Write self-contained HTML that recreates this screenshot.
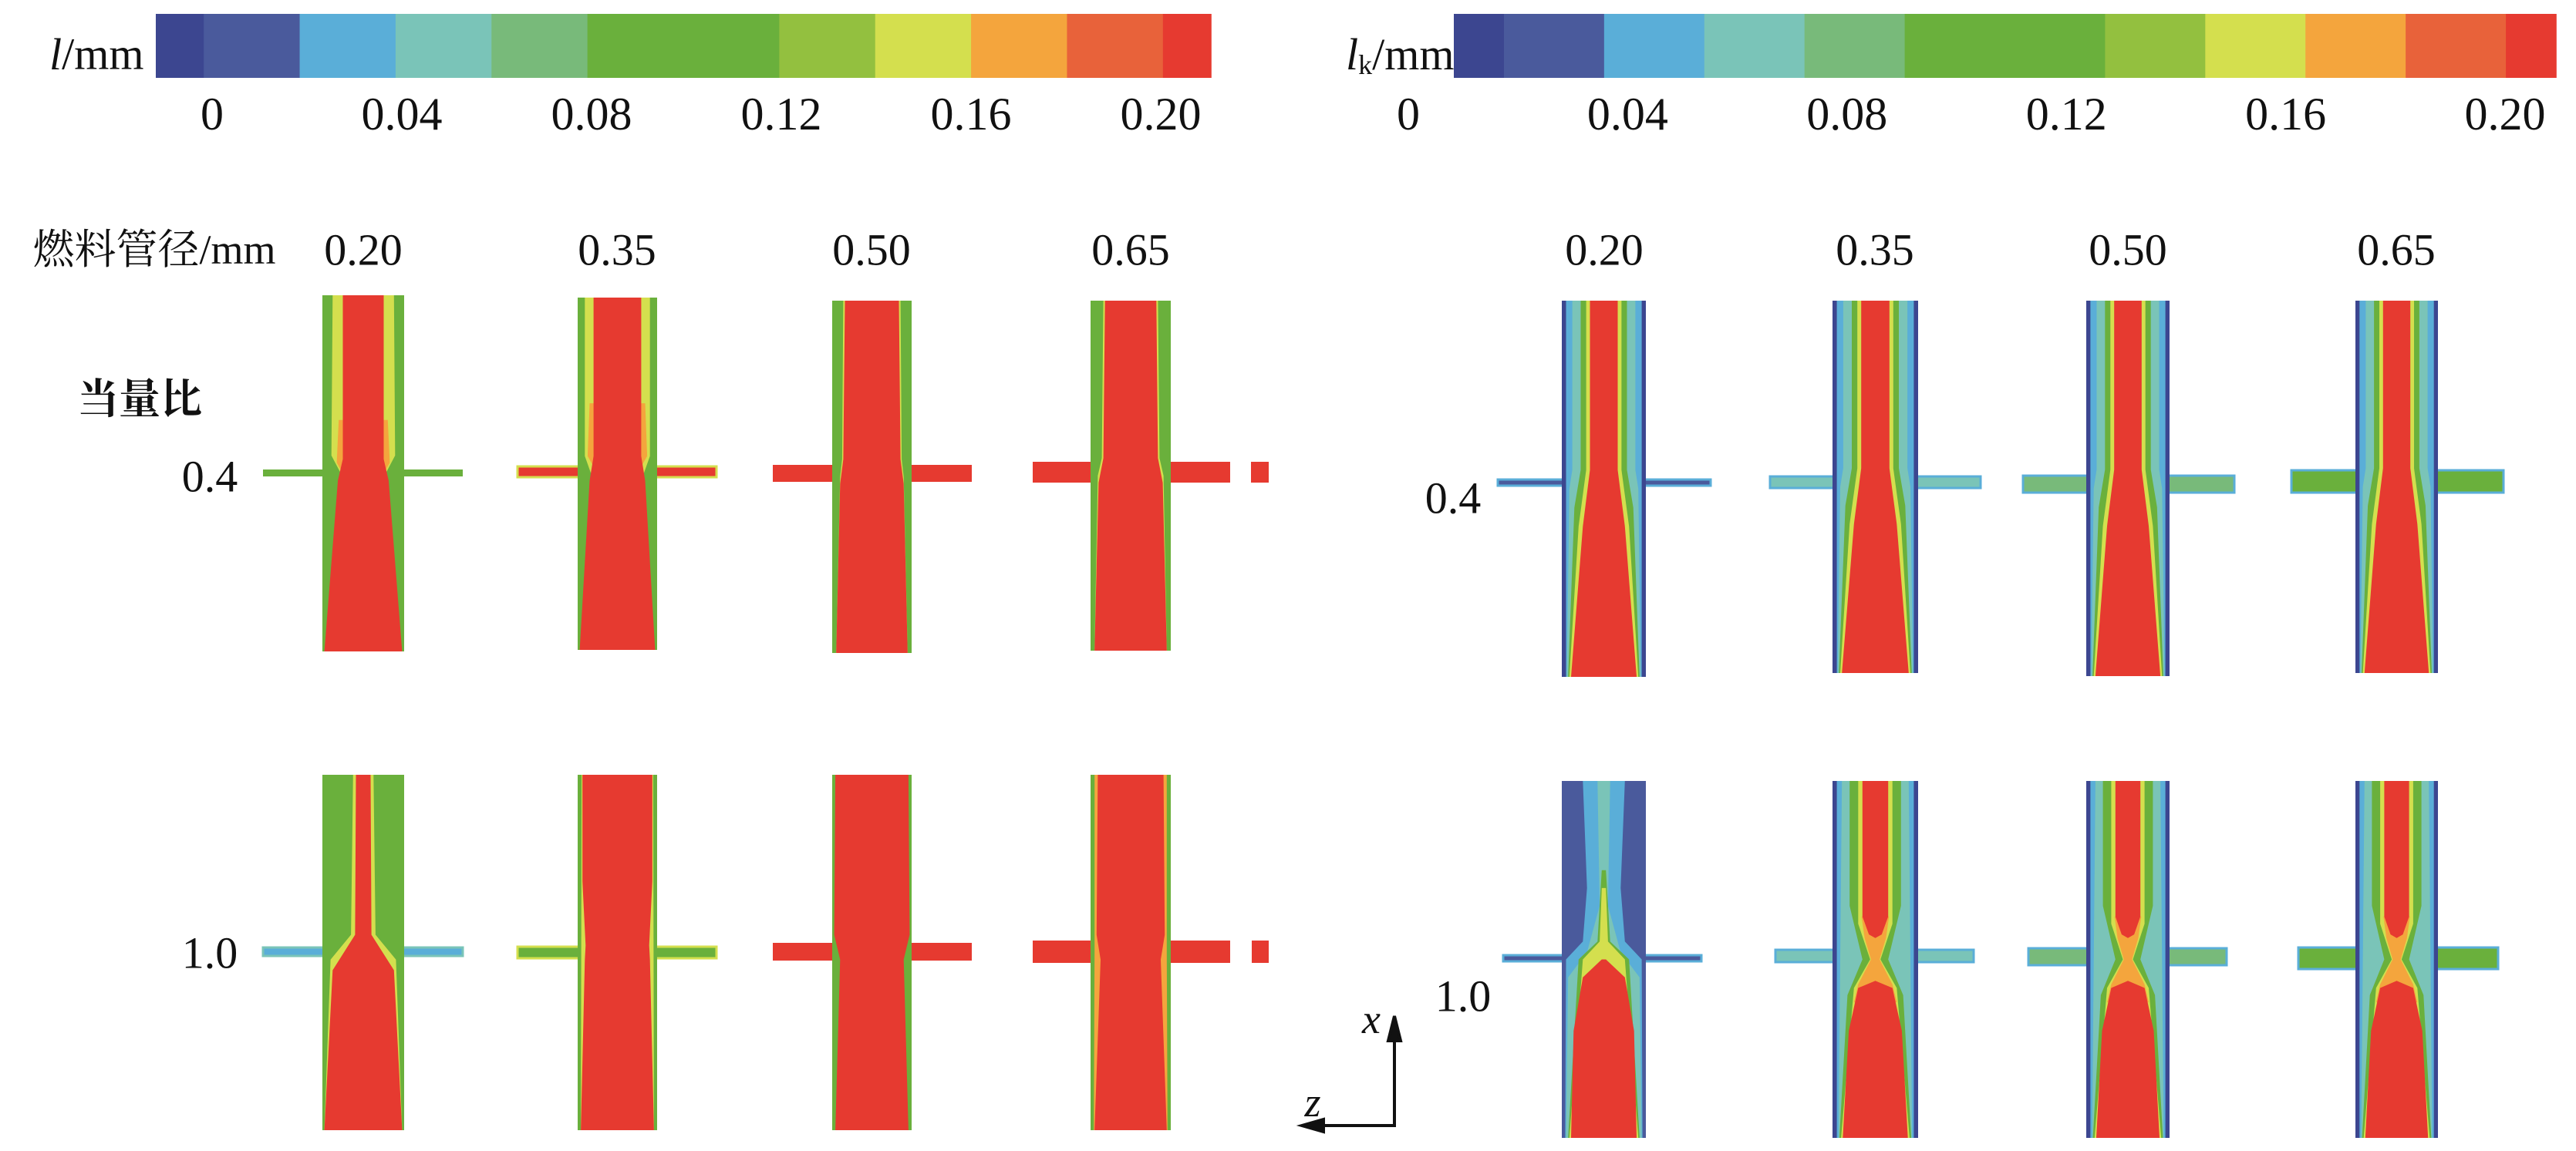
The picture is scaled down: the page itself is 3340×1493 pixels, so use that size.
<!DOCTYPE html>
<html><head><meta charset="utf-8">
<style>
html,body{margin:0;padding:0;background:#fff;}
body{width:3340px;height:1493px;overflow:hidden;}
svg{display:block;}
text{font-family:"Liberation Serif","Noto Serif CJK SC",serif;fill:#111;}
</style></head>
<body>
<svg id="fig" width="3340" height="1493" viewBox="0 0 3340 1493" xmlns="http://www.w3.org/2000/svg"></svg>
<script>
// ---- data ----
const colorStops = ["#3c4690","#4a5a9c","#5aaed8","#7ac4b8","#78ba7a","#6ab03c","#6ab03c","#93c03f","#d4df4e","#f4a53d","#e8623a","#e63a30"];
const colorWidths = [0.5,1,1,1,1,1,1,1,1,1,1,0.5];
const tickLabels = ["0","0.04","0.08","0.12","0.16","0.20"];
const tickValues = [0,0.04,0.08,0.12,0.16,0.20];
const diameters = ["0.20","0.35","0.50","0.65"];
const ratios = ["0.4","1.0"];

const svg = document.getElementById('fig');
const NS = "http://www.w3.org/2000/svg";
function mk(tag, attrs, parent){
  const e = document.createElementNS(NS, tag);
  for (const k in attrs) e.setAttribute(k, attrs[k]);
  (parent||svg).appendChild(e);
  return e;
}
function txt(str, x, y, size, name, extra, parent){
  const t = mk('text', Object.assign({x:x, y:y, 'font-size':size, 'text-anchor':'middle', 'dominant-baseline':'central'}, extra||{}), parent);
  t.textContent = str;
  
  
  return t;
}

// ---- colorbars ----
function colorbar(x0, x1, y0, y1, tickX, name){
  const g = mk('g', {});
  
  
  const total = colorWidths.reduce((a,b)=>a+b,0);
  let cx = x0;
  colorStops.forEach((c,i)=>{
    const w = (x1-x0)*colorWidths[i]/total;
    const r = mk('rect', {x:cx, y:y0, width:w+0.8, height:y1-y0, fill:c}, g);
    
    
    cx += w;
  });
  tickValues.forEach((v,i)=>{
    txt(tickLabels[i], tickX(v), 148, 60, 'colorbar-tick-label', {}, g);
  });
}
const leftTick = v => 275 + (1505-275)*v/0.20;
const rightTick = v => 1826 + (3248-1826)*v/0.20;
colorbar(202, 1570, 18, 101, leftTick, 'left-colorbar');
colorbar(1885, 3314, 18, 101, rightTick, 'right-colorbar');

let t1 = mk('text', {x:64, y:70, 'font-size':58, 'dominant-baseline':'central'});
t1.innerHTML = '<tspan font-style="italic">l</tspan>/mm';


let t2 = mk('text', {x:1745, y:70, 'font-size':58, 'dominant-baseline':'central'});
t2.innerHTML = '<tspan font-style="italic">l</tspan><tspan font-size="36" dy="14">k</tspan><tspan dy="-14">/mm</tspan>';



txt('燃料管径/mm', 200, 324, 54, 'fuel-tube-diameter-label', {});
txt('当量比', 181, 518, 54, 'equivalence-ratio-label', {'font-weight':'bold'});
const leftCols = [471, 800, 1130, 1466];
const rightCols = [2080, 2431, 2759, 3107];
diameters.forEach((d,i)=>{
  txt(d, leftCols[i], 324, 58, 'left-diameter-label');
  txt(d, rightCols[i], 324, 58, 'right-diameter-label');
});
txt(ratios[0], 272, 618, 58, 'left-ratio-label-0.4');
txt(ratios[1], 272, 1236, 58, 'left-ratio-label-1.0');
txt(ratios[0], 1884, 646, 58, 'right-ratio-label-0.4');
txt(ratios[1], 1897, 1292, 58, 'right-ratio-label-1.0');

// ---- tubes ----
function profilePoly(cx, hw, top, bot, prof, color, g){
  const left = [], right = [];
  prof.forEach(([t,w])=>{
    const y = top + (bot-top)*t;
    left.push((cx - hw*w).toFixed(1)+','+y.toFixed(1));
    right.unshift((cx + hw*w).toFixed(1)+','+y.toFixed(1));
  });
  const p = mk('polygon', {points:left.concat(right).join(' '), fill:color}, g);
  
  
}
function tube(spec){
  const g = mk('g', {});
  
  
  const cx = (spec.x0+spec.x1)/2, hw = (spec.x1-spec.x0)/2;
  const arm = mk('rect', {x:spec.ax0, y:spec.ay0, width:spec.ax1-spec.ax0, height:spec.ay1-spec.ay0, fill:spec.armColor}, g);
  
  
  if (spec.armEdge){
    mk('rect', {x:spec.ax0, y:spec.ay0, width:spec.ax1-spec.ax0, height:spec.ay1-spec.ay0, fill:'none', stroke:spec.armEdge, 'stroke-width':3}, g);
  }
  if (spec.extra){
    const ex = mk('rect', {x:spec.extra[0], y:spec.ay0, width:spec.extra[1]-spec.extra[0], height:spec.ay1-spec.ay0, fill:spec.armColor}, g);
    
    
  }
  spec.layers.forEach(([color, prof])=>profilePoly(cx, hw, spec.top, spec.bot, prof, color, g));
}
const R='#e63a30', G='#6ab03c', LG='#78ba7a', Y='#d4df4e', O='#f4a53d', C='#7ac4b8', B='#5aaed8', N='#3c4690', N2='#4a5a9c';
const full = [[0,1],[1,1]];

// Left row 0.4
tube({name:'left-tube-0.20-0.4', x0:418,x1:524, top:383,bot:845, ax0:341,ax1:600, ay0:609,ay1:618, armColor:G,
  layers:[[G,full],[Y,[[0,0.75],[0.45,0.78],[0.5,0.55],[1,0.82]]],[O,[[0.35,0.6],[0.47,0.65],[0.5,0.5],[0.55,0.5]]],[R,[[0,0.5],[0.46,0.5],[0.52,0.62],[1,0.95]]]]});
tube({name:'left-tube-0.35-0.4', x0:749,x1:852, top:386,bot:843, ax0:671,ax1:929, ay0:605,ay1:619, armColor:R, armEdge:Y,
  layers:[[G,full],[Y,[[0,0.82],[0.45,0.82],[0.52,0.6],[1,0.85]]],[O,[[0.3,0.7],[0.45,0.75],[0.5,0.5]]],[R,[[0,0.6],[0.45,0.6],[0.52,0.7],[1,0.95]]]]});
tube({name:'left-tube-0.50-0.4', x0:1079,x1:1182, top:390,bot:847, ax0:1002,ax1:1260, ay0:603,ay1:625, armColor:R,
  layers:[[G,full],[Y,[[0,0.72],[0.45,0.75],[0.5,0.8],[1,0.9]]],[R,[[0,0.68],[0.45,0.72],[0.52,0.8],[1,0.9]]]]});
tube({name:'left-tube-0.65-0.4', x0:1414,x1:1518, top:390,bot:844, ax0:1339,ax1:1595, ay0:599,ay1:626, armColor:R, extra:[1622,1645],
  layers:[[G,full],[Y,[[0,0.68],[0.45,0.72],[0.5,0.82],[1,0.9]]],[R,[[0,0.64],[0.45,0.68],[0.52,0.8],[1,0.9]]]]});

// Left row 1.0
tube({name:'left-tube-0.20-1.0', x0:418,x1:524, top:1005,bot:1466, ax0:341,ax1:600, ay0:1229,ay1:1240, armColor:B, armEdge:C,
  layers:[[G,full],[Y,[[0,0.25],[0.45,0.3],[0.52,0.8],[1,0.95]]],[R,[[0,0.18],[0.45,0.2],[0.55,0.75],[1,0.95]]]]});
tube({name:'left-tube-0.35-1.0', x0:749,x1:852, top:1005,bot:1466, ax0:671,ax1:929, ay0:1228,ay1:1243, armColor:G, armEdge:Y,
  layers:[[G,full],[Y,[[0,0.9],[1,0.92]]],[R,[[0,0.88],[0.3,0.88],[0.48,0.8],[0.52,0.82],[1,0.92]]]]});
tube({name:'left-tube-0.50-1.0', x0:1079,x1:1182, top:1005,bot:1466, ax0:1002,ax1:1260, ay0:1223,ay1:1246, armColor:R,
  layers:[[G,full],[R,[[0,0.92],[0.45,0.95],[0.52,0.8],[1,0.92]]]]});
tube({name:'left-tube-0.65-1.0', x0:1414,x1:1518, top:1005,bot:1466, ax0:1339,ax1:1595, ay0:1220,ay1:1249, armColor:R, extra:[1623,1645],
  layers:[[G,full],[O,[[0,0.9],[0.5,0.9],[1,0.92]]],[R,[[0,0.82],[0.45,0.85],[0.52,0.75],[1,0.9]]]]});

// Right row 0.4
const rCols = [[2025,2134,1942,2218,622,630,N2],[2376,2487,2295,2568,618,633,C],[2705,2813,2623,2897,617,639,LG],[3054,3161,2971,3246,610,639,G]];
const rBot = [878,873,877,873];
rCols.forEach((c,i)=>{
  tube({name:'right-tube-'+diameters[i]+'-0.4', x0:c[0],x1:c[1], top:390,bot:rBot[i], ax0:c[2],ax1:c[3], ay0:c[4],ay1:c[5], armColor:c[6], armEdge:B,
    layers:[[N,full],[B,[[0,0.9],[1,0.9]]],[C,[[0,0.75],[0.45,0.75],[0.5,0.82],[1,0.88]]],[G,[[0,0.55],[0.45,0.55],[0.55,0.7],[1,0.85]]],[Y,[[0,0.42],[0.45,0.42],[0.6,0.6],[1,0.82]]],[R,[[0,0.33],[0.45,0.33],[0.6,0.5],[1,0.78]]]]});
});
// Right row 1.0
const r2 = [[1949,2206,1239,1247,N2],[2302,2559,1232,1248,C],[2630,2887,1230,1252,LG],[2980,3239,1229,1257,G]];
tube({name:'right-tube-0.20-1.0', x0:2025,x1:2134, top:1013,bot:1476, ax0:r2[0][0],ax1:r2[0][1], ay0:r2[0][2],ay1:r2[0][3], armColor:N2, armEdge:B,
  layers:[[N2,full],[B,[[0,0.5],[0.3,0.4],[0.45,0.5],[0.5,0.9],[1,0.92]]],[C,[[0,0.15],[0.35,0.1],[0.48,0.4],[0.55,0.85],[1,0.9]]],[G,[[0.25,0.05],[0.45,0.15],[0.5,0.6],[1,0.85]]],[Y,[[0.3,0.05],[0.45,0.1],[0.5,0.5],[1,0.82]]],[R,[[0.5,0.05],[0.55,0.5],[0.7,0.72],[1,0.78]]]]});
for (let i=1;i<4;i++){
  const c = r2[i], x0 = rCols[i][0], x1 = rCols[i][1];
  tube({name:'right-tube-'+diameters[i]+'-1.0', x0:x0,x1:x1, top:1013,bot:1476, ax0:c[0],ax1:c[1], ay0:c[2],ay1:c[3], armColor:c[4], armEdge:B,
    layers:[[N,full],[B,[[0,0.9],[1,0.9]]],[C,[[0,0.78],[1,0.86]]],[G,[[0,0.6],[0.35,0.6],[0.5,0.3],[0.6,0.65],[1,0.84]]],[Y,[[0,0.4],[0.4,0.4],[0.5,0.12],[0.58,0.5],[1,0.8]]],[O,[[0.38,0.32],[0.44,0.25],[0.5,0.1],[0.57,0.4],[0.62,0.5]]],
      [R,[[0,0.3],[0.38,0.3],[0.43,0.15],[0.44,0]]],[R,[[0.56,0],[0.58,0.4],[0.7,0.62],[1,0.76]]]]});
}

// axis indicator
const ax = mk('g', {stroke:'#111','stroke-width':4, fill:'none'});


mk('polyline', {points:'1808,1342 1808,1460 1700,1460'}, ax);
mk('polygon', {points:'1808,1318 1800,1350 1816,1350', fill:'#111'}, ax);
mk('polygon', {points:'1688,1460 1716,1452 1716,1468', fill:'#111'}, ax);
txt('x', 1778, 1322, 54, 'x-axis-label', {'font-style':'italic'});
txt('z', 1702, 1430, 54, 'z-axis-label', {'font-style':'italic'});
</script>
</body></html>
